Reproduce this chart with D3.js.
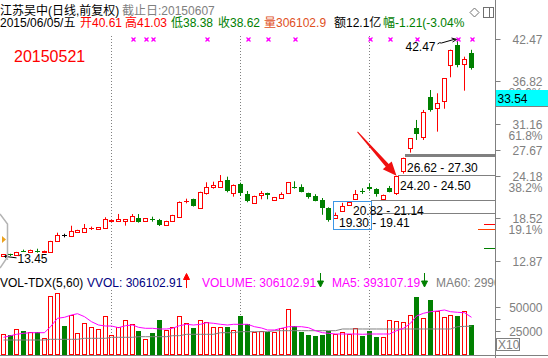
<!DOCTYPE html>
<html>
<head>
<meta charset="utf-8">
<script src="https://cdn.jsdelivr.net/npm/d3@7"></script>
<style>
    body { margin: 0; background: #fff; }
    svg { display: block; font-family: "Liberation Sans", "Noto Sans CJK SC", sans-serif; }
</style>
</head>
<body>
<div id="canvas"></div>
<script>
"use strict"

/* Daily candles, oldest first */
let opens = [13.45, 13.77, 13.59, 14.22, 14.00, 14.22, 13.97, 14.07, 15.54, 16.26,
    16.21, 16.66, 16.74, 17.20, 17.06, 17.28, 18.20, 18.17, 18.17, 18.21,
    18.53, 18.13, 18.45, 18.30, 17.60, 18.21, 18.75, 20.85, 21.11, 19.95,
    21.87, 22.67, 22.67, 23.65, 21.87, 23.11, 21.82, 20.53, 21.60, 21.91,
    20.93, 21.20, 21.87, 22.70, 22.67, 21.91, 21.51, 20.97, 19.95, 18.57,
    19.45, 20.27, 21.15, 22.16, 22.75, 22.48, 21.11, 22.54, 21.87, 24.88,
    27.88, 30.63, 29.43, 34.77, 33.22, 34.23, 38.96, 41.67, 39.13, 40.61];
let highs = [13.75, 13.80, 14.05, 14.35, 14.35, 14.47, 14.22, 15.52, 16.61, 16.47,
    17.54, 17.00, 17.77, 17.42, 17.36, 18.67, 18.35, 19.11, 18.42, 19.10,
    19.10, 18.56, 18.75, 18.45, 18.20, 19.00, 20.78, 21.15, 21.15, 22.08,
    23.34, 23.42, 24.31, 24.09, 23.05, 23.29, 22.18, 21.55, 22.18, 21.95,
    21.38, 22.00, 23.38, 23.47, 23.07, 21.95, 21.75, 21.24, 20.00, 19.30,
    20.60, 20.82, 22.31, 22.54, 23.20, 22.55, 21.70, 22.85, 24.20, 26.62,
    29.25, 31.66, 33.00, 35.66, 35.22, 37.25, 41.05, 42.47, 40.11, 41.03];
let lows = [13.45, 13.50, 13.55, 14.05, 13.98, 13.94, 13.95, 14.00, 15.50, 15.99,
    16.13, 16.60, 16.70, 16.97, 17.03, 17.25, 18.15, 18.15, 17.55, 18.18,
    17.95, 18.10, 18.08, 17.50, 17.55, 18.18, 18.70, 20.53, 20.10, 19.90,
    21.70, 22.49, 22.62, 22.00, 21.42, 21.51, 20.67, 20.50, 21.07, 21.07,
    20.90, 21.15, 21.83, 22.49, 22.00, 21.15, 20.80, 19.00, 18.08, 18.50,
    19.41, 20.22, 21.14, 21.78, 22.20, 21.42, 21.05, 22.00, 21.64, 24.50,
    27.30, 28.99, 28.99, 32.77, 30.10, 33.16, 37.36, 38.69, 35.57, 38.38];
let closes = [13.73, 13.62, 14.03, 14.18, 14.30, 14.18, 14.20, 15.50, 16.30, 16.26,
    16.84, 16.97, 17.20, 17.22, 17.33, 18.44, 18.25, 18.40, 18.40, 18.84,
    18.08, 18.53, 18.40, 17.64, 18.17, 18.97, 20.75, 20.90, 20.21, 22.04,
    22.67, 22.98, 23.51, 22.18, 23.02, 21.87, 20.88, 21.51, 21.91, 21.69,
    21.33, 21.78, 23.34, 22.65, 22.04, 21.42, 20.88, 19.95, 18.31, 19.00,
    20.22, 20.71, 21.78, 22.12, 22.49, 21.78, 21.64, 22.04, 24.18, 26.62,
    29.21, 29.79, 32.72, 32.99, 33.88, 37.22, 41.00, 39.00, 39.76, 38.62];

/* Volume in axis units (X10) and its two moving averages */
let volumes = [21600, 20800, 27200, 25100, 23700, 23700, 17600, 62500, 65400, 30400,
    42200, 23000, 33300, 28600, 27200, 41100, 20800, 29000, 36800, 32200,
    25100, 16600, 23000, 36100, 26200, 28600, 41100, 32900, 27600, 36800,
    34400, 28600, 29400, 28600, 26200, 41100, 32600, 24000, 24500, 24000,
    23300, 28300, 48600, 29700, 23300, 20800, 19800, 20800, 24400, 21600,
    24000, 21900, 28000, 19800, 25100, 17900, 18700, 36800, 35500, 34000,
    42200, 60700, 39000, 57500, 45700, 39700, 42200, 40400, 46500, 30610];
let volMa5 = [17950, 19660, 21150, 22220, 22860, 22860, 22860, 29270, 38250, 39320,
    41770, 43160, 39960, 34620, 31090, 30020, 30020, 28210, 30340, 31090,
    28630, 27560, 27560, 26820, 26820, 27560, 30340, 31840, 31090, 31840,
    33550, 32910, 31840, 31090, 31840, 31840, 31840, 29270, 27890, 25750,
    25750, 27560, 29270, 29270, 29270, 28210, 25000, 22860, 22220, 21470,
    21470, 21470, 21470, 21150, 21470, 21470, 21470, 21470, 25000, 27560,
    32910, 40710, 43590, 45300, 46050, 47120, 45300, 44660, 44230, 39311];
let volMa60 = [15060, 15060, 15060, 15060, 15060, 15060, 15060, 15810, 15810, 15810,
    15810, 15810, 16880, 16880, 16880, 16880, 17950, 17950, 17950, 17950,
    18590, 18590, 18590, 18590, 18590, 19660, 19660, 21150, 21150, 21150,
    21150, 21150, 22860, 22860, 22860, 23930, 23930, 23930, 23930, 23930,
    25000, 25000, 25000, 25000, 25000, 25000, 25000, 25000, 25000, 25000,
    26820, 26820, 26820, 26820, 26820, 26820, 26820, 26820, 26820, 26820,
    26820, 26820, 26820, 26820, 26820, 26820, 26820, 29270, 29600, 29903];
/* candles whose volume bar is red although the candle is green */
let volUpOverride = [57];

/* Axis values */
let priceTicks = [42.47, 36.82, 31.16, 27.67, 24.18, 18.52, 12.87];
let fibPrices = [36.82, 31.16, 24.18, 18.52];
let fibLabels = ["80.9%", "61.8%", "38.2%", "19.1%"];
let volTicks = [12500, 25000, 37500, 50000];
let volTickLabels = ["", "25000", "", "50000"];
let lastPrice = 33.54;

/* Marks on the chart */
let signalIdx = [19, 21, 22, 30, 36, 39, 43, 54, 57, 61, 67, 69];
let monthIdx = [16, 35, 54];
let gapLows = [26.62, 24.20, 20.82, 19.30];
let gapHighs = [27.30, 24.50, 21.14, 19.41];
let gapFrom = [59, 58, 54, 54];
let gapLabelAt = [59, 58, 51, 49];
let sideMarkPrices = [17.77, 17.10, 14.57];
let sideMarkColors = ["#ff0000", "#ff4000", "#008000"];
let sideMarkLengths = [11, 17, 11];

/* Configuration variables: drawing */
let svgWidth = 548;
let svgHeight = 358;
let axisX = 495.5;
let red = "#ff0000";
let green = "#008000";
let gray = "#808080";

let svg = d3.select("#canvas")
    .append("svg")
    .attr("width", svgWidth)
    .attr("height", svgHeight);

svg.append("clipPath").attr("id", "plotClip")
    .append("rect").attr("x", 0).attr("y", 0).attr("width", 495).attr("height", svgHeight);

let bars = opens.map(function (o, i) {
    return { i: i, o: o, h: highs[i], l: lows[i], c: closes[i], v: volumes[i] };
});

/* Scales */
let x = d3.scaleBand()
    .domain(d3.range(bars.length))
    .range([0, bars.length * 6.78]);
function px(i) {
    return Math.floor(x(i) + x.bandwidth() / 2);
}
let y = d3.scaleLinear()
    .domain([12.87, 42.47])
    .range([260.7, 39]);
let yVol = d3.scaleLinear()
    .domain([0, 50000])
    .range([354.1, 307.3]);

let plot = svg.append("g").attr("clip-path", "url(#plotClip)");

/* Month separators */
monthIdx.forEach(function (i) {
    [[36, 270], [290, 355]].forEach(function (span) {
        plot.append("line")
            .attr("x1", px(i) + 0.5).attr("x2", px(i) + 0.5)
            .attr("y1", span[0]).attr("y2", span[1])
            .attr("stroke", gray)
            .attr("stroke-dasharray", "1,2");
    });
});

/* Unfilled gaps: bands to the right edge */
gapLows.forEach(function (lo, k) {
    let top = Math.round(y(gapHighs[k]) + 1.5);
    let h = Math.max(1, Math.round(y(lo) - y(gapHighs[k]) - 2));
    plot.append("rect")
        .attr("x", px(gapFrom[k]) + 2)
        .attr("y", top)
        .attr("width", 495 - px(gapFrom[k]) - 2)
        .attr("height", h)
        .attr("fill", gray);
});

/* Side marks near the axis */
sideMarkPrices.forEach(function (p, k) {
    plot.append("line")
        .attr("x1", 495 - sideMarkLengths[k]).attr("x2", 495)
        .attr("y1", Math.round(y(p)) + 0.5).attr("y2", Math.round(y(p)) + 0.5)
        .attr("stroke", sideMarkColors[k]);
});

/* Candles */
let candles = plot.append("g").selectAll("g")
    .data(bars)
    .join("g");

candles.each(function (d) {
    let g = d3.select(this);
    let p = px(d.i);
    let yTop = Math.round(y(Math.max(d.o, d.c)));
    let yBot = Math.round(y(Math.min(d.o, d.c)));
    let color = d.c > d.o ? red : (d.c < d.o ? green : "#000");
    if (d.c > d.o) {
        g.append("line")
            .attr("x1", p + 0.5).attr("x2", p + 0.5)
            .attr("y1", y(d.h)).attr("y2", yTop)
            .attr("stroke", color);
        g.append("line")
            .attr("x1", p + 0.5).attr("x2", p + 0.5)
            .attr("y1", yBot + 1).attr("y2", y(d.l))
            .attr("stroke", color);
        if (yBot - yTop >= 1) {
            g.append("rect")
                .attr("x", p - 1.5).attr("y", yTop + 0.5)
                .attr("width", 4).attr("height", yBot - yTop)
                .attr("fill", "#fff")
                .attr("stroke", color);
        } else {
            g.append("rect")
                .attr("x", p - 2).attr("y", yTop)
                .attr("width", 5).attr("height", 1)
                .attr("fill", color);
        }
    } else {
        g.append("line")
            .attr("x1", p + 0.5).attr("x2", p + 0.5)
            .attr("y1", y(d.h)).attr("y2", y(d.l))
            .attr("stroke", color);
        g.append("rect")
            .attr("x", p - 2).attr("y", yTop)
            .attr("width", 5).attr("height", Math.max(1, yBot - yTop))
            .attr("fill", color);
    }
});

/* Signal markers on the top row */
signalIdx.forEach(function (i) {
    let cx = px(i) + 1.5;
    plot.append("path")
        .attr("d", "M" + (cx - 2) + ",37.5L" + (cx + 2) + ",41.5M" + (cx + 2) + ",37.5L" + (cx - 2) + ",41.5")
        .attr("stroke", "#ff00ff")
        .attr("stroke-width", 1.2);
    plot.append("rect")
        .attr("x", cx - 1).attr("y", 38.5).attr("width", 2).attr("height", 2)
        .attr("fill", "#ff00ff");
});

/* Selection box round the lower gap labels */
plot.append("rect")
    .attr("x", px(49) - 2 + 0.5)
    .attr("y", Math.round(y(20.9)) + 0.5)
    .attr("width", px(54) - px(49) + 4)
    .attr("height", Math.round(y(17.1)) - Math.round(y(20.9)))
    .attr("fill", "none")
    .attr("stroke", "#3c96e6");

/* Gap labels */
gapLows.forEach(function (lo, k) {
    plot.append("text")
        .attr("x", px(gapLabelAt[k]) + 4)
        .attr("y", y(lo) + 14)
        .attr("font-size", 12)
        .attr("fill", "#000")
        .text(d3.format(".2f")(lo) + " - " + d3.format(".2f")(gapHighs[k]));
});

/* Big red arrow pointing at the breakout candle */
let tipX = px(58) + 0.5;
let tipY = y(highs[58]);
let tailX = tipX - 39;
let tailY = tipY - 44;
let len = Math.hypot(tipX - tailX, tipY - tailY);
let ux = (tipX - tailX) / len, uy = (tipY - tailY) / len;
let nx = -uy, ny = ux;
let bx = tipX - ux * 14, by = tipY - uy * 14;
let arrowPts = [
    [tailX + nx * 0.5, tailY + ny * 0.5], [bx + nx * 2, by + ny * 2], [bx + nx * 6, by + ny * 6],
    [tipX, tipY],
    [bx - nx * 6, by - ny * 6], [bx - nx * 2, by - ny * 2], [tailX - nx * 0.5, tailY - ny * 0.5]
];
plot.append("path")
    .attr("d", d3.line()(arrowPts) + "Z")
    .attr("fill", "#f01010");

/* High / low notes */
let hiX = px(67) + 0.5, hiY = y(42.47);
plot.append("text")
    .attr("x", hiX - 52).attr("y", hiY + 11.5)
    .attr("font-size", 12)
    .text("42.47");
plot.append("path")
    .attr("d", "M" + (hiX - 20) + "," + (hiY + 5) + "q2,-2 4,-1l" + "14,-4")
    .attr("fill", "none").attr("stroke", "#000");
plot.append("path")
    .attr("d", "M" + (hiX - 6) + "," + (hiY - 1) + "L" + (hiX - 1) + "," + (hiY + 0.5) + "L" + (hiX - 5) + "," + (hiY + 3))
    .attr("fill", "none").attr("stroke", "#000");

let loX = px(0) + 0.5, loY = y(13.45);
plot.append("text")
    .attr("x", loX + 14).attr("y", loY + 7)
    .attr("font-size", 12)
    .text("13.45");
plot.append("path")
    .attr("d", "M" + (loX + 13) + "," + (loY + 1.5) + "L" + (loX + 1) + "," + loY +
        "M" + (loX + 5) + "," + (loY - 2) + "L" + (loX + 1) + "," + loY + "L" + (loX + 4) + "," + (loY + 3))
    .attr("fill", "none").attr("stroke", "#000");

/* Collapse tab on the left edge */
svg.append("path")
    .attr("d", "M0,214L7.5,224L7.5,257L0,268")
    .attr("fill", "none").attr("stroke", "#b4b4b4").attr("stroke-width", 1.5);
svg.append("path")
    .attr("d", "M2,236L6,239.5L2,243Z")
    .attr("fill", "#eca21e");

/* Volume bars */
let volBars = plot.append("g").selectAll("g")
    .data(bars)
    .join("g");

volBars.each(function (d) {
    let g = d3.select(this);
    let p = px(d.i);
    let top = Math.round(yVol(d.v));
    let up = d.c > d.o || volUpOverride.indexOf(d.i) >= 0;
    if (up) {
        g.append("rect")
            .attr("x", p - 1.5).attr("y", top + 0.5)
            .attr("width", 4).attr("height", 354 - top)
            .attr("fill", "#fff").attr("stroke", red);
    } else {
        g.append("rect")
            .attr("x", p - 2).attr("y", top)
            .attr("width", 5).attr("height", 355 - top)
            .attr("fill", green);
    }
});

let maLine = d3.line()
    .x(function (v, i) { return px(i) + 0.5; })
    .y(function (v) { return yVol(v); });

plot.append("path")
    .attr("d", maLine(volMa60))
    .attr("fill", "none").attr("stroke", gray);
plot.append("path")
    .attr("d", maLine(volMa5))
    .attr("fill", "none").attr("stroke", "#ff00ff");

/* Bottom rule */
svg.append("line")
    .attr("x1", 0).attr("x2", svgWidth)
    .attr("y1", 355.5).attr("y2", 355.5)
    .attr("stroke", gray);

/* Right axis */
svg.append("line")
    .attr("x1", axisX).attr("x2", axisX)
    .attr("y1", 0).attr("y2", svgHeight)
    .attr("stroke", gray);

let axisG = svg.append("g").attr("font-size", 12).attr("fill", gray);

priceTicks.forEach(function (p) {
    let ty = Math.round(y(p)) + 0.5;
    axisG.append("line")
        .attr("x1", axisX).attr("x2", axisX + 5)
        .attr("y1", ty).attr("y2", ty)
        .attr("stroke", gray);
    axisG.append("text")
        .attr("x", 542.5).attr("y", ty + 4.5)
        .attr("text-anchor", "end")
        .text(d3.format(".2f")(p));
});
fibPrices.forEach(function (p, k) {
    axisG.append("text")
        .attr("x", 542.5).attr("y", Math.round(y(p)) + 16)
        .attr("text-anchor", "end")
        .text(fibLabels[k]);
});

/* Last price box */
let lastY = Math.round(y(lastPrice));
svg.append("rect")
    .attr("x", 496).attr("y", lastY - 16)
    .attr("width", 52).attr("height", 16)
    .attr("fill", "#00ffff");
svg.append("line")
    .attr("x1", 496).attr("x2", svgWidth)
    .attr("y1", lastY + 0.5).attr("y2", lastY + 0.5)
    .attr("stroke", gray);
svg.append("text")
    .attr("x", 497.5).attr("y", lastY - 3.5)
    .attr("font-size", 12)
    .attr("fill", "#000")
    .text(d3.format(".2f")(lastPrice));

volTicks.forEach(function (v, k) {
    let ty = Math.round(yVol(v)) + 0.5;
    axisG.append("line")
        .attr("x1", axisX).attr("x2", axisX + 5)
        .attr("y1", ty).attr("y2", ty)
        .attr("stroke", gray);
    axisG.append("text")
        .attr("x", 542.5).attr("y", ty + 4.5)
        .attr("text-anchor", "end")
        .text(volTickLabels[k]);
});

svg.append("rect")
    .attr("x", 496.5).attr("y", 338.5)
    .attr("width", 23).attr("height", 12)
    .attr("fill", "#fff").attr("stroke", gray);
svg.append("text")
    .attr("x", 498).attr("y", 349)
    .attr("font-size", 12).attr("fill", gray)
    .text("X10");

/* Header lines */
let header = svg.append("g").attr("font-size", 12);
header.append("text").attr("x", 0).attr("y", 14.5)
    .text("江苏吴中(日线,前复权)");
header.append("text").attr("x", 122).attr("y", 14.5).attr("fill", gray)
    .text("截止日:20150607");

let quoteParts = [
    ["2015/06/05/五", "#000", 0],
    ["开40.61", red, 80],
    ["高41.03", red, 125],
    ["低38.38", green, 171],
    ["收38.62", green, 218],
    ["量306102.9", "#e0501e", 264],
    ["额12.1亿", "#000", 334],
    ["幅-1.21(-3.04%", green, 383]
];
quoteParts.forEach(function (q) {
    header.append("text").attr("x", q[2]).attr("y", 26.5).attr("fill", q[1]).text(q[0]);
});

/* window icons top right */
svg.append("path")
    .attr("d", "M474.5,8L479,12.5L474.5,17L470,12.5Z")
    .attr("fill", "none").attr("stroke", "#707070");
svg.append("rect")
    .attr("x", 483.5).attr("y", 7.5).attr("width", 10).attr("height", 10)
    .attr("fill", "none").attr("stroke", "#707070");
svg.append("line")
    .attr("x1", 489.5).attr("x2", 489.5).attr("y1", 7.5).attr("y2", 17.5)
    .attr("stroke", "#707070");

svg.append("text")
    .attr("x", 14).attr("y", 62)
    .attr("font-size", 16)
    .attr("fill", red)
    .text("20150521");

/* Volume header */
let volHeader = svg.append("g").attr("font-size", 12).attr("clip-path", "url(#plotClip)");
let volParts = [
    ["VOL-TDX(5,60)", "#000", 0],
    ["VVOL: 306102.91", "#000080", 87],
    ["VOLUME: 306102.91", "#ff00ff", 202],
    ["MA5: 393107.19", "#ff00ff", 332],
    ["MA60: 299035.62", gray, 436]
];
volParts.forEach(function (q) {
    volHeader.append("text").attr("x", q[2]).attr("y", 286.5).attr("fill", q[1]).text(q[0]);
});
volHeader.append("path")
    .attr("d", "M186.5,288V276M183.5,279.5L186.5,273.5L189.5,279.5Z")
    .attr("stroke", red).attr("fill", red);
[320, 424].forEach(function (ax) {
    volHeader.append("path")
        .attr("d", "M" + (ax + 0.5) + ",273V284M" + (ax - 2.5) + ",281L" + (ax + 0.5) + ",287L" + (ax + 3.5) + ",281Z")
        .attr("stroke", green).attr("fill", green);
});
</script>
</body>
</html>
